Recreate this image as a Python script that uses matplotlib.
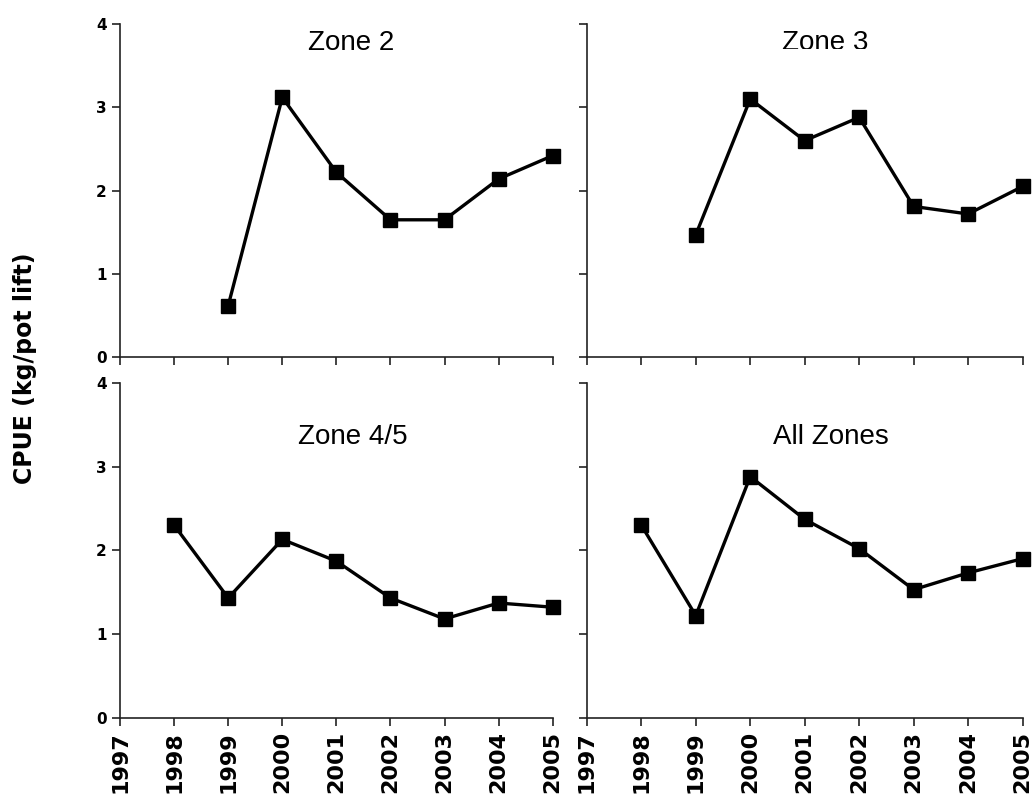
import matplotlib.pyplot as plt
from matplotlib.transforms import Bbox

years = [1997, 1998, 1999, 2000, 2001, 2002, 2003, 2004, 2005]

zone2_years = [1999, 2000, 2001, 2002, 2003, 2004, 2005]
zone2_cpue = [0.62, 3.12, 2.22, 1.65, 1.65, 2.14, 2.42]

zone3_years = [1999, 2000, 2001, 2002, 2003, 2004, 2005]
zone3_cpue = [1.47, 3.10, 2.60, 2.88, 1.81, 1.72, 2.05]

zone45_years = [1998, 1999, 2000, 2001, 2002, 2003, 2004, 2005]
zone45_cpue = [2.30, 1.43, 2.13, 1.87, 1.43, 1.18, 1.37, 1.32]

all_years = [1998, 1999, 2000, 2001, 2002, 2003, 2004, 2005]
all_cpue = [2.30, 1.22, 2.88, 2.37, 2.02, 1.53, 1.73, 1.90]

fig = plt.figure(figsize=(10.35, 8.01), dpi=100)

# axes boxes in figure fractions
boxes = [
    [0.116, 0.554, 0.418, 0.416],
    [0.567, 0.554, 0.421, 0.416],
    [0.116, 0.104, 0.418, 0.418],
    [0.567, 0.104, 0.421, 0.418],
]
panels = [
    (zone2_years, zone2_cpue, 'Zone 2', 0.533, 0.943),
    (zone3_years, zone3_cpue, 'Zone 3', 0.546, 0.943),
    (zone45_years, zone45_cpue, 'Zone 4/5', 0.537, 0.839),
    (all_years, all_cpue, 'All Zones', 0.56, 0.839),
]

for i, (box, (xs, ys, name, tx, ty)) in enumerate(zip(boxes, panels)):
    ax = fig.add_axes(box)
    ax.plot(xs, ys, color='black', linewidth=2.4, marker='s',
            markersize=9.5, clip_on=False, zorder=3)
    ax.set_xlim(1997, 2005)
    ax.set_ylim(0, 4)
    ax.set_xticks(years)
    ax.set_yticks([0, 1, 2, 3, 4])
    for s in ['top', 'right']:
        ax.spines[s].set_visible(False)
    for s in ['left', 'bottom']:
        ax.spines[s].set_linewidth(1.2)
        ax.spines[s].set_color('#222222')
    ax.tick_params(direction='out', length=6, width=1.2, color='#222222')

    if i < 2:
        ax.set_xticklabels([])
    else:
        ax.set_xticklabels([str(y) for y in years], rotation=90,
                           fontsize=16, fontweight='heavy',
                           family='DejaVu Sans')
    if i % 2 == 1:
        ax.set_yticklabels([])
    else:
        ax.set_yticklabels(['0', '1', '2', '3', '4'], fontsize=11,
                           fontweight='heavy', family='DejaVu Sans')

    t = ax.text(tx, ty, name, transform=ax.transAxes, ha='center',
                va='center', fontsize=20, family='Liberation Sans')
    if name == 'Zone 3':
        # in the original the bottom edge of this title is cut off
        t.set_clip_on(True)
        t.set_clip_path(None)
        t.set_clip_box(Bbox.from_extents(0, 801 - 49, 1035, 801))

fig.text(0.024, 0.54, 'CPUE (kg/pot lift)', rotation=90, ha='center',
         va='center', fontsize=17, fontweight='heavy', family='DejaVu Sans')

fig.savefig('out.png', dpi=100)
